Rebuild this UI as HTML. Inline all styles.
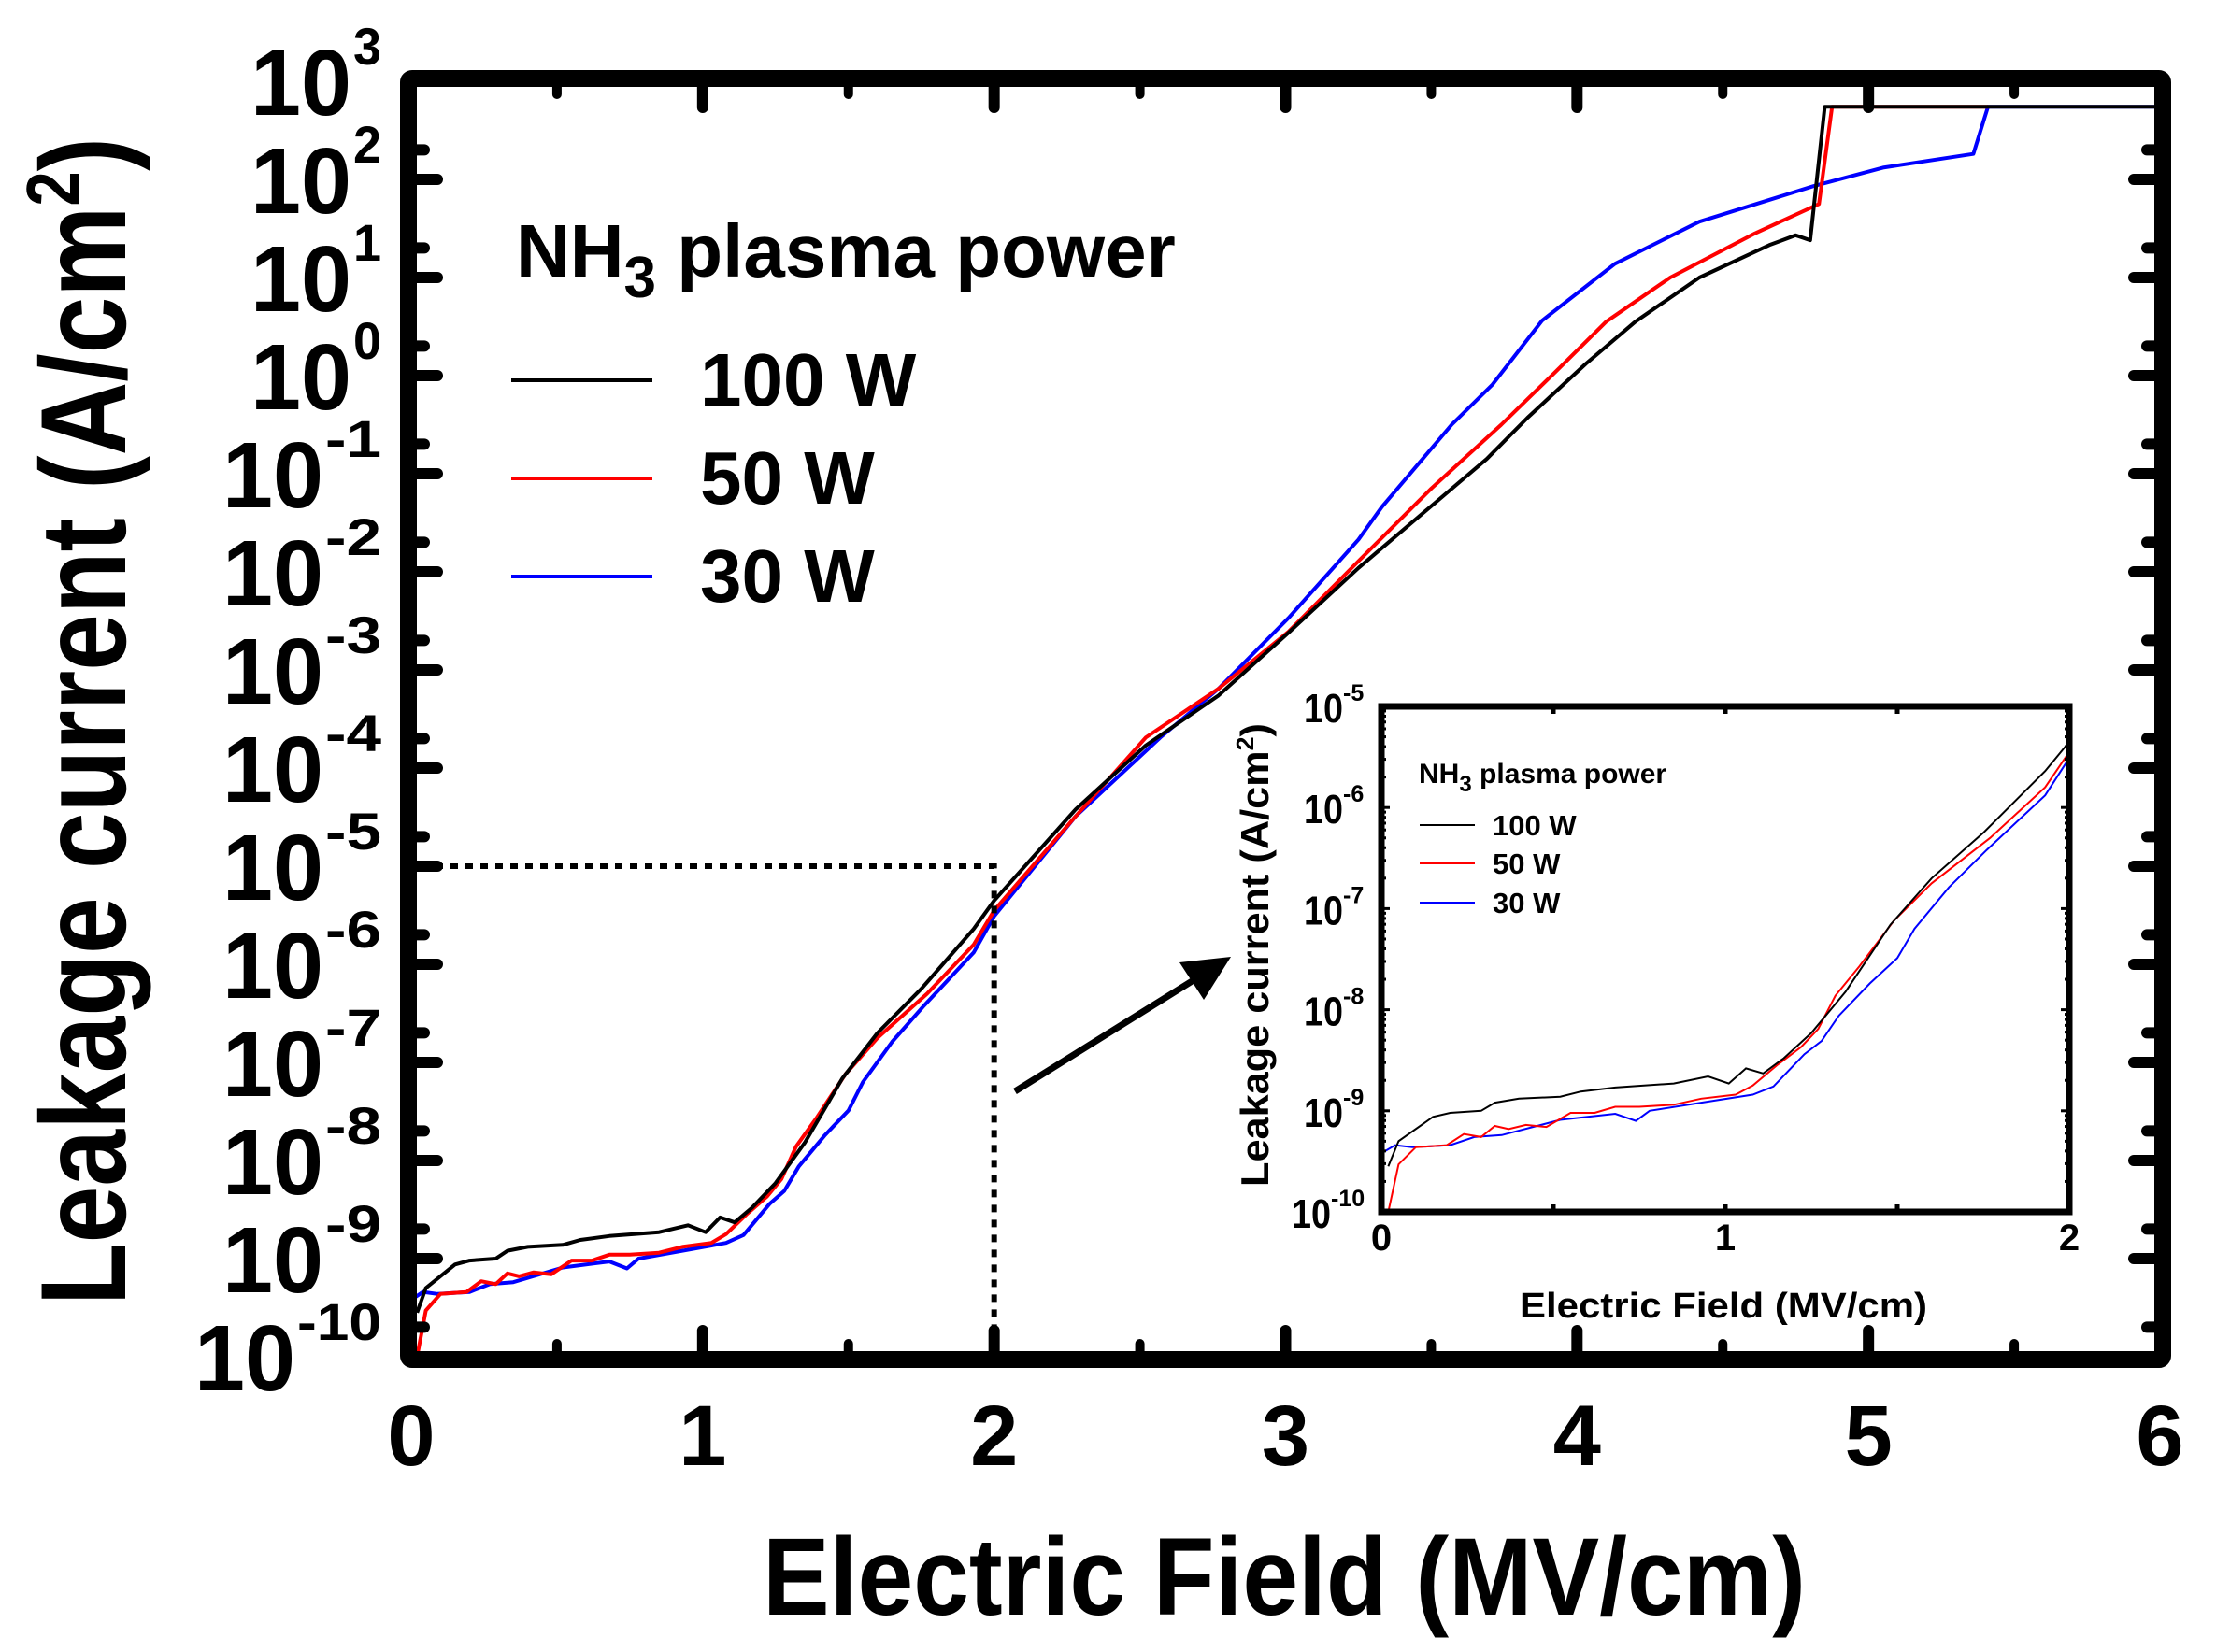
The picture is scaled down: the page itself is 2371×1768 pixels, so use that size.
<!DOCTYPE html>
<html><head><meta charset="utf-8"><title>Leakage current vs Electric Field</title>
<style>html,body{margin:0;padding:0;background:#fff;}svg{display:block;font-family:"Liberation Sans",Arial,sans-serif;}</style>
</head><body>
<svg id="chart" xmlns="http://www.w3.org/2000/svg" width="2371" height="1768" viewBox="0 0 2371 1768">
<rect width="2371" height="1768" fill="#fff"/>
<g id="main-marks"></g>
<g id="inset"></g>
<g id="annot"></g>
</svg>
<script>
// ---- data (x in MV/cm, y as log10 of leakage current A/cm^2) ----
const seriesNames = ["100 W", "50 W", "30 W"];
const seriesColors = ["#000000", "#ff0000", "#0000ff"];
const lowX100 = [0.02,0.05,0.15,0.2,0.29,0.33,0.4,0.52,0.58,0.68,0.85,0.95,1.01,1.06,1.11,1.17,1.25,1.35,1.48,1.6,1.75,1.93,2.0];
const lowY100 = [-9.55,-9.3,-9.06,-9.02,-9.0,-8.92,-8.88,-8.86,-8.81,-8.77,-8.73,-8.66,-8.73,-8.58,-8.63,-8.48,-8.23,-7.82,-7.16,-6.7,-6.25,-5.64,-5.35];
const lowX50 = [0.02,0.05,0.1,0.19,0.24,0.29,0.33,0.37,0.42,0.48,0.55,0.62,0.68,0.75,0.85,0.93,1.03,1.08,1.15,1.22,1.27,1.32,1.39,1.49,1.6,1.77,1.93,2.0];
const lowY50 = [-10,-9.53,-9.36,-9.34,-9.23,-9.26,-9.15,-9.18,-9.14,-9.16,-9.02,-9.02,-8.96,-8.96,-8.94,-8.88,-8.84,-8.75,-8.55,-8.37,-8.19,-7.86,-7.57,-7.12,-6.75,-6.3,-5.8,-5.45];
const lowX30 = [0.0,0.04,0.09,0.2,0.27,0.35,0.52,0.68,0.74,0.78,0.93,1.08,1.14,1.23,1.28,1.33,1.42,1.5,1.55,1.65,1.76,1.93,2.0];
const lowY30 = [-9.42,-9.34,-9.36,-9.34,-9.26,-9.24,-9.09,-9.03,-9.1,-9.0,-8.92,-8.84,-8.76,-8.44,-8.31,-8.06,-7.74,-7.49,-7.2,-6.79,-6.42,-5.88,-5.51];
const highX100 = [2.28,2.52,2.77,3.01,3.25,3.5,3.69,3.83,4.03,4.2,4.42,4.66,4.75,4.8,4.85,6.0];
const highY100 = [-4.42,-3.77,-3.26,-2.62,-1.96,-1.33,-0.85,-0.43,0.12,0.55,1.0,1.33,1.43,1.38,2.74,2.74];
const highX50 = [2.28,2.52,2.77,3.01,3.25,3.5,3.74,3.93,4.1,4.32,4.61,4.83,4.875,5.41];
const highY50 = [-4.49,-3.69,-3.19,-2.61,-1.89,-1.15,-0.5,0.05,0.55,1.0,1.45,1.75,2.74,2.74];
const highX30 = [2.28,2.57,2.77,3.01,3.25,3.33,3.57,3.71,3.88,4.13,4.42,4.81,5.05,5.36,5.41,6.0];
const highY30 = [-4.49,-3.69,-3.19,-2.47,-1.67,-1.34,-0.5,-0.09,0.56,1.14,1.57,1.93,2.12,2.26,2.74,2.74];
const xTicksMain = [0,1,2,3,4,5,6];
const yExpMain = [3,2,1,0,-1,-2,-3,-4,-5,-6,-7,-8,-9,-10];
const xTicksInset = [0,1,2];
const yExpInset = [-5,-6,-7,-8,-9,-10];

const NS = "http://www.w3.org/2000/svg";
function mk(parent, tag, attrs, text){
  const e = document.createElementNS(NS, tag);
  for (const k in attrs) e.setAttribute(k, attrs[k]);
  if (text !== undefined) e.textContent = text;
  parent.appendChild(e); return e;
}
const MX0 = 440, MX1 = 2311, MY0 = 1452, MY1 = 87;
const mx = x => MX0 + (x - 0) / 6 * (MX1 - MX0);
const my = l => MY0 - (l + 10) / 13 * (MY0 - MY1);
const IX0 = 1478, IX1 = 2214, IY0 = 1297, IY1 = 756;
const ix = x => IX0 + x / 2 * (IX1 - IX0);
const iy = l => IY0 - (l + 10) / 5 * (IY0 - IY1);

const main = document.getElementById('main-marks');
const inset = document.getElementById('inset');
const annot = document.getElementById('annot');

function pathD(xs, ys, fx, fy){ return xs.map((x,i)=>(i?'L':'M')+fx(x).toFixed(1)+' '+fy(ys[i]).toFixed(1)).join(' '); }

const mainSets = [[lowX100.concat(highX100), lowY100.concat(highY100)],[lowX50.concat(highX50), lowY50.concat(highY50)],[lowX30.concat(highX30), lowY30.concat(highY30)]];
[2,1,0].forEach(i=>{
  const p = mk(main,'path',{d:pathD(mainSets[i][0],mainSets[i][1],mx,my),fill:'none',stroke:seriesColors[i],'stroke-width':4,'stroke-linejoin':'round'});
  
  
});
const fr = mk(main,'rect',{x:MX0-3,y:MY1-3,width:MX1-MX0+6,height:MY0-MY1+6,fill:'none',stroke:'#000','stroke-width':18,rx:4});


for (let k=0;k<=12;k++){
  const x = k*0.5, big = k%2===0, L = big?28:14;
  mk(main,'line',{x1:mx(x),x2:mx(x),y1:MY0,y2:MY0-L,stroke:'#000','stroke-width':big?12:10,'stroke-linecap':'round'});
  mk(main,'line',{x1:mx(x),x2:mx(x),y1:MY1,y2:MY1+L,stroke:'#000','stroke-width':big?12:10,'stroke-linecap':'round'});
}
for (let e=-10;e<=3;e++){
  [[e,28],[e+0.301,14]].forEach(([l,L])=>{ if(l>3) return;
    mk(main,'line',{x1:MX0,x2:MX0+L,y1:my(l),y2:my(l),stroke:'#000','stroke-width':12,'stroke-linecap':'round'});
    mk(main,'line',{x1:MX1,x2:MX1-L,y1:my(l),y2:my(l),stroke:'#000','stroke-width':12,'stroke-linecap':'round'});
  });
}
xTicksMain.forEach(v=>{
  const t = mk(main,'text',{x:mx(v),y:1568,'font-size':92,'font-weight':'bold','text-anchor':'middle'}, String(v));
  
  
});
yExpMain.forEach(e=>{
  const ys = my(e)+36;
  const supW = String(e).length*30;
  const g = mk(main,'text',{x:408-supW-110,y:ys,'font-size':100,'font-weight':'bold',textLength:108,lengthAdjust:'spacingAndGlyphs'},'10');
  
  
  mk(main,'text',{x:408-supW,y:ys-54,'font-size':56,'font-weight':'bold',textLength:supW,lengthAdjust:'spacingAndGlyphs'},String(e));
});
const xt = mk(main,'text',{x:1374,y:1728,'font-size':118,'font-weight':'bold','text-anchor':'middle',textLength:1116,lengthAdjust:'spacingAndGlyphs'},'Electric Field (MV/cm)');


const yt = mk(main,'text',{x:0,y:0,'font-size':130,'font-weight':'bold','text-anchor':'middle',textLength:1250,lengthAdjust:'spacingAndGlyphs',transform:'translate(134,772) rotate(-90)'});
yt.innerHTML = 'Leakage current (A/cm<tspan dy="-50" font-size="80">2</tspan><tspan dy="50">)</tspan>';


const lt = mk(main,'text',{x:552,y:296,'font-size':80,'font-weight':'bold'});
lt.innerHTML = 'NH<tspan dy="22" font-size="62">3</tspan><tspan dy="-22"> plasma power</tspan>';


const legY = [407,512,617];
seriesNames.forEach((n,i)=>{
  const l = mk(main,'line',{x1:547,x2:698,y1:legY[i],y2:legY[i],stroke:seriesColors[i],'stroke-width':4});
  
  
  const t = mk(main,'text',{x:749,y:legY[i]+27,'font-size':80,'font-weight':'bold'},n);
  
  
});

const box = mk(annot,'path',{d:`M${MX0+10} ${my(-5)} L${mx(2)} ${my(-5)} L${mx(2)} ${MY0-10}`,fill:'none',stroke:'#000','stroke-width':6,'stroke-dasharray':'8 8'});


const ar = mk(annot,'line',{x1:1086,y1:1168,x2:1285,y2:1044,stroke:'#000','stroke-width':7});


mk(annot,'polygon',{points:'1317,1024 1262,1030 1288,1070',fill:'#000'});

const insetSets = [[lowX100,lowY100],[lowX50,lowY50],[lowX30,lowY30]];
[2,1,0].forEach(i=>{
  const p = mk(inset,'path',{d:pathD(insetSets[i][0],insetSets[i][1],ix,iy),fill:'none',stroke:seriesColors[i],'stroke-width':2});
  
  
});
const ifr = mk(inset,'rect',{x:IX0,y:IY1,width:IX1-IX0,height:IY0-IY1,fill:'none',stroke:'#000','stroke-width':7});


for (let k=0;k<=4;k++){ const x=k*0.5;
  mk(inset,'line',{x1:ix(x),x2:ix(x),y1:IY0,y2:IY0-8,stroke:'#000','stroke-width':5});
  mk(inset,'line',{x1:ix(x),x2:ix(x),y1:IY1,y2:IY1+8,stroke:'#000','stroke-width':5});
}
for (let e=-10;e<=-5;e++){
  for (let m=1;m<10;m++){ const l=e+Math.log10(m); if(l>-5) break; const L=m===1?9:5;
    mk(inset,'line',{x1:IX0,x2:IX0+L,y1:iy(l),y2:iy(l),stroke:'#000','stroke-width':3});
    mk(inset,'line',{x1:IX1,x2:IX1-L,y1:iy(l),y2:iy(l),stroke:'#000','stroke-width':3});
  }
}
xTicksInset.forEach(v=>{
  const t = mk(inset,'text',{x:ix(v),y:1338,'font-size':40,'font-weight':'bold','text-anchor':'middle'},String(v));
  
  
});
yExpInset.forEach(e=>{
  const ys = iy(e)+17, supW = String(e).length*13;
  const t = mk(inset,'text',{x:1463-supW-42,y:ys,'font-size':44,'font-weight':'bold',textLength:42,lengthAdjust:'spacingAndGlyphs'},'10');
  
  
  mk(inset,'text',{x:1463-supW,y:ys-23,'font-size':25,'font-weight':'bold'},String(e));
});
const ixt = mk(inset,'text',{x:1844,y:1410,'font-size':38,'font-weight':'bold','text-anchor':'middle',textLength:436,lengthAdjust:'spacingAndGlyphs'},'Electric Field (MV/cm)');


const iyt = mk(inset,'text',{x:0,y:0,'font-size':42,'font-weight':'bold','text-anchor':'middle',textLength:496,lengthAdjust:'spacingAndGlyphs',transform:'translate(1357,1022) rotate(-90)'});
iyt.innerHTML = 'Leakage current (A/cm<tspan dy="-16" font-size="26">2</tspan><tspan dy="16">)</tspan>';


const ilt = mk(inset,'text',{x:1518,y:838,'font-size':30,'font-weight':'bold'});
ilt.innerHTML = 'NH<tspan dy="9" font-size="24">3</tspan><tspan dy="-9"> plasma power</tspan>';


const iLegY = [883,924,966];
seriesNames.forEach((n,i)=>{
  const l = mk(inset,'line',{x1:1519,x2:1578,y1:iLegY[i],y2:iLegY[i],stroke:seriesColors[i],'stroke-width':2});
  
  
  const t = mk(inset,'text',{x:1597,y:iLegY[i]+11,'font-size':31,'font-weight':'bold'},n);
  
  
});
</script>
</body></html>
